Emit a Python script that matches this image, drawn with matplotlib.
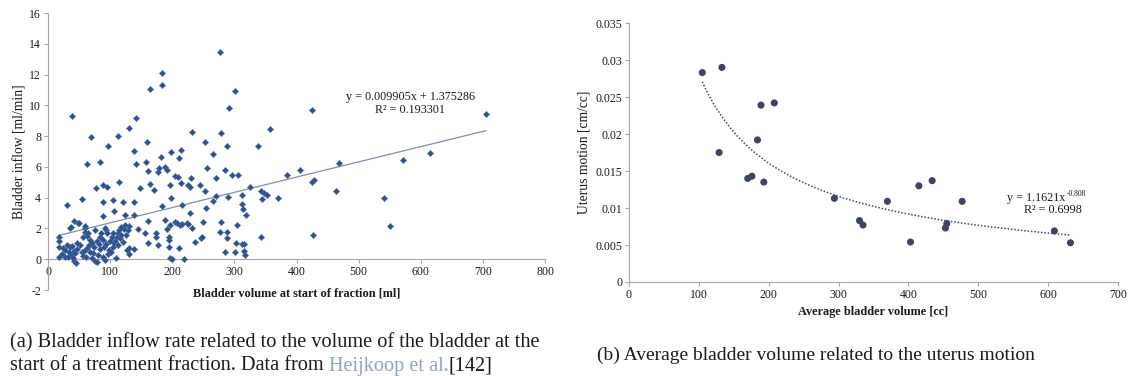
import numpy as np
import matplotlib
matplotlib.use("Agg")
import matplotlib.pyplot as plt
from matplotlib.ticker import FuncFormatter

# (a) bladder volume at start of fraction [ml] vs inflow [ml/min]
vol_a = [184, 184, 164, 38, 141, 130, 232, 112, 69, 160, 253, 96, 214, 139, 198, 266, 182, 210,
         83, 157, 63, 142, 189, 178, 256, 191, 161, 177, 205, 209, 230, 114, 164, 214, 196, 226,
         245, 229, 89, 95, 148, 77, 171, 252, 198, 54, 266, 105, 120, 89, 139, 215, 30, 183,
         255, 106, 229, 139, 89, 124,
         130, 131, 139, 129, 130, 144, 156, 161, 161, 173, 174, 177, 189, 191, 195, 195, 196,
         199, 196, 205, 208, 212, 210, 216, 219, 223, 225, 231, 236, 246, 248, 249, 194,
         17, 17, 17, 18, 24, 27, 30, 33, 35, 38, 38, 41, 42, 45, 43, 47, 36, 37, 42, 49, 59,
         60, 56, 55, 57, 63, 61, 66, 68, 70, 65, 73, 76, 78, 74, 78, 84, 84, 86, 89, 90, 92,
         94, 95, 92, 96, 98, 100, 103, 105, 106, 108, 110, 111, 112, 114, 116, 118, 122, 124,
         126, 62, 50, 59,
         22, 28, 32, 40, 52, 58, 67, 80, 82, 88, 93, 101, 104, 113, 118, 120, 127, 70, 46, 75,
         276, 301, 291, 279, 288, 338, 285, 296, 305, 270, 325, 270, 289, 312, 342, 344, 348,
         353, 370, 312, 314, 318, 279, 304, 277, 288, 288, 343, 302, 312, 315, 285, 301, 316,
         317, 358,
         425, 705, 615, 571, 469, 406, 384, 428, 425, 464, 540, 551, 426]
inflow_a = [12.1, 11.35, 11.05, 9.3, 9.15, 8.5, 8.3, 8.0, 7.95, 7.65, 7.6, 7.35, 7.1, 7.05, 7.0,
            6.85, 6.65, 6.6, 6.3, 6.3, 6.2, 6.2, 6.0, 5.95, 5.9, 5.8, 5.75, 5.7, 5.4, 5.35, 5.3,
            5.0, 4.9, 4.95, 4.85, 4.85, 4.8, 4.7, 4.8, 4.7, 4.6, 4.6, 4.5, 4.45, 4.0, 3.9, 3.8,
            3.85, 3.75, 3.7, 3.7, 3.55, 3.5, 3.45, 3.3, 3.15, 3.0, 2.85, 2.8, 2.85,
            0.33, 0.72, 0.68, 1.9, 2.17, 1.97, 1.69, 1.04, 2.51, 1.45, 1.72, 0.91, 2.58, 1.98,
            1.26, 0.82, 0.05, 0.02, 2.23, 2.45, 2.37, 2.24, 0.7, 2.3, 0.0, 2.38, 2.28, 2.02,
            1.12, 1.41, 1.47, 2.45, 1.47,
            1.47, 1.2, 0.78, 0.17, 0.72, 0.17, 0.93, 0.5, 0.78, 0.87, 0.28, 0.56, -0.1, -0.26,
            0.39, 0.65, 2.0, 2.1, 2.5, 2.38, 2.06, 1.74, 1.43, 0.46, 0.22, 0.72, 0.17, 0.93,
            1.26, 1.08, 1.7, 0.39, -0.1, -0.17, 0.78, 1.21, 1.43, 0.65, 1.7, 1.26, 0.78, -0.04,
            1.9, 1.7, 2.0, 0.35, 0.6, 1.2, 1.43, 0.82, 1.04, 1.2, 0.07, 1.47, 1.7, 1.9, 1.37,
            1.58, 1.95, 2.23, 1.58, 1.5, 2.34, 2.19,
            0.35, 0.6, 0.15, 0.05, 0.9, 0.55, 0.45, 0.3, 1.0, 0.15, 1.0, 0.45, 1.7, 0.9, 2.1,
            1.1, 0.6, 0.05, 1.05, 1.9,
            13.45, 10.9, 9.82, 8.2, 7.33, 7.37, 5.77, 5.49, 5.45, 5.31, 4.68, 4.14, 4.07, 4.18,
            4.44, 3.9, 4.3, 4.2, 3.97, 3.6, 3.25, 2.88, 2.4, 2.21, 1.8, 1.8, 1.37, 1.47, 1.08,
            0.97, 0.97, 0.47, 0.47, 0.53, 0.26, 8.48,
            9.7, 9.46, 6.88, 6.44, 6.27, 5.81, 5.47, 5.16, 4.99, 4.45, 3.99, 2.19, 1.58]
fit_a = (0.009905, 1.375286)

# (b) average bladder volume [cc] vs uterus motion [cm/cc]
vol_b = [105, 133, 129, 189, 208, 184, 170, 176, 193, 294, 330, 335, 370, 403, 415, 434,
         455, 453, 477, 609, 632]
motion_b = [0.0283, 0.0290, 0.0175, 0.0239, 0.0242, 0.0192, 0.0140, 0.0143, 0.0135, 0.0113,
            0.0083, 0.0077, 0.0109, 0.0054, 0.0130, 0.0137, 0.0079, 0.0073, 0.0109, 0.0069,
            0.0053]
fit_b = (1.1621, -0.808)

serif = ["Liberation Serif", "DejaVu Serif"]
plt.rcParams["font.family"] = serif
plt.rcParams["axes.unicode_minus"] = False
spine_col = "#a6a6a6"
txt_col = "#1a1a1a"

fig = plt.figure(figsize=(11.28, 3.76), dpi=100)

def style(ax):
    for s in ["top", "right"]:
        ax.spines[s].set_visible(False)
    for s in ["left", "bottom"]:
        ax.spines[s].set_color(spine_col)
        ax.spines[s].set_linewidth(0.8)
    ax.tick_params(colors=spine_col, labelcolor=txt_col, labelsize=8.5, length=3, width=0.8, pad=2)

# ---- left chart
ax1 = fig.add_axes([0.0426, 0.2287, 0.4406, 0.7367])
style(ax1)
ax1.scatter(vol_a, inflow_a, marker="D", s=10, color="#30508a", edgecolors="#4a6fae", linewidths=0.4, zorder=3)
xs = np.array([min(vol_a), max(vol_a)])
ax1.plot(xs, fit_a[0] * xs + fit_a[1], color="#8090a8", lw=0.9, zorder=2)
ax1.set_xlim(0, 800)
ax1.set_ylim(-2, 16)
ax1.set_xticks(range(0, 801, 100))
ax1.set_yticks(range(-2, 17, 2))
ax1.spines["bottom"].set_position(("data", 0))
ax1.set_ylabel("Bladder inflow [ml/min]", fontsize=9.8, color=txt_col, labelpad=2)
ax1.text(400, -1.85, "Bladder volume at start of fraction [ml]", fontsize=8.8, fontweight="bold",
         ha="center", va="top", color=txt_col)
ax1.text(583, 10.55, "y = 0.009905x + 1.375286", fontsize=8.7, ha="center", va="center", color=txt_col)
ax1.text(583, 9.7, "R² = 0.193301", fontsize=8.7, ha="center", va="center", color=txt_col)

# ---- right chart
ax2 = fig.add_axes([0.5576, 0.25, 0.4335, 0.6888])
style(ax2)
xf = np.linspace(min(vol_b), max(vol_b), 200)
ax2.plot(xf, fit_b[0] * xf ** fit_b[1], color="#3b4a6b", lw=1.1, ls=(0, (1, 1.2)), zorder=2)
ax2.scatter(vol_b, motion_b, marker="o", s=26, color="#3b4660", edgecolors="none", zorder=3)
ax2.set_xlim(0, 700)
ax2.set_ylim(0, 0.035)
ax2.set_xticks(range(0, 701, 100))
ax2.set_yticks(np.arange(0, 0.0351, 0.005))
ax2.yaxis.set_major_formatter(FuncFormatter(lambda v, p: f"{v:.3f}".rstrip("0").rstrip(".")))
ax2.set_ylabel("Uterus motion [cm/cc]", fontsize=9.8, color=txt_col, labelpad=3)
ax2.set_xlabel("Average bladder volume [cc]", fontsize=8.8, fontweight="bold", color=txt_col, labelpad=4)
ax2.text(625, 0.0113, "y = 1.1621x", fontsize=8.7, ha="right", va="center", color=txt_col)
ax2.annotate("-0.808", xy=(625, 0.0113), xytext=(0.5, 3), textcoords="offset points",
             fontsize=5.5, ha="left", va="center", color=txt_col)
ax2.text(607, 0.0097, "R² = 0.6998", fontsize=8.7, ha="center", va="center", color=txt_col)

# ---- captions
cap_a = 14.6
cap_b = 14.0
fig.text(0.009, 1 - 343 / 376, "(a) Bladder inflow rate related to the volume of the bladder at the",
         fontsize=cap_a, va="center", color=txt_col)
t = fig.text(0.009, 1 - 366 / 376, "start of a treatment fraction. Data from ", fontsize=cap_a,
             va="center", color=txt_col)
fig.canvas.draw()
x1 = t.get_window_extent().x1 / fig.bbox.width
t2 = fig.text(x1, 1 - 366 / 376, "Heijkoop et al.", fontsize=cap_a, va="center", color="#8fa3c4")
fig.canvas.draw()
x2 = t2.get_window_extent().x1 / fig.bbox.width
fig.text(x2, 1 - 366 / 376, "[142]", fontsize=cap_a, va="center", color=txt_col)
fig.text(0.529, 1 - 355 / 376, "(b) Average bladder volume related to the uterus motion",
         fontsize=cap_b, va="center", color=txt_col)

fig.savefig("out.png", dpi=100)
